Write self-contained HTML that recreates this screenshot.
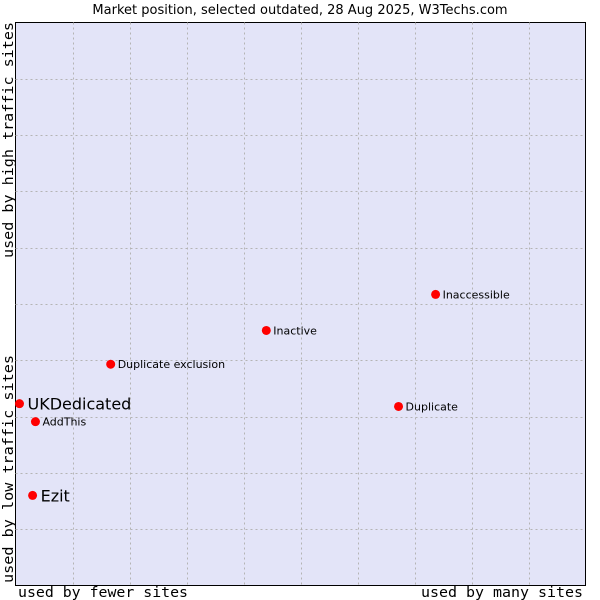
<!DOCTYPE html>
<html><head><meta charset="utf-8"><style>
body{margin:0;background:#fff;width:600px;height:600px;overflow:hidden}
svg{display:block}
</style></head><body>
<svg id="chart" width="600" height="600" font-family="'DejaVu Sans', sans-serif">
<text x="300" y="14" text-anchor="middle" font-size="13">Market position, selected outdated, 28 Aug 2025, W3Techs.com</text>
<rect x="15.5" y="22.5" width="570" height="563" fill="#e3e4f8" stroke="#000"/>
<g id="grid"></g>
<g id="pts"></g>
<text x="18" y="597" font-family="'DejaVu Sans Mono', monospace" font-size="14" textLength="170" lengthAdjust="spacingAndGlyphs">used by fewer sites</text>
<text x="421" y="597" font-family="'DejaVu Sans Mono', monospace" font-size="14" textLength="162" lengthAdjust="spacingAndGlyphs">used by many sites</text>
<text transform="translate(13,583) rotate(-90)" font-family="'DejaVu Sans Mono', monospace" font-size="14" textLength="228" lengthAdjust="spacingAndGlyphs">used by low traffic sites</text>
<text transform="translate(13,258) rotate(-90)" font-family="'DejaVu Sans Mono', monospace" font-size="14" textLength="236" lengthAdjust="spacingAndGlyphs">used by high traffic sites</text>
</svg>
<script>
const names=["UKDedicated","AddThis","Ezit","Duplicate exclusion","Inactive","Inaccessible","Duplicate"];
const xVals=[0.7,3.5,3.0,16.7,44.0,73.7,67.2];
const yVals=[32.3,29.1,16.0,39.3,45.3,51.7,31.8];
const big=[true,false,true,false,false,false,false];
const L=15.5,T=22.5,W=570,H=563;
const sx=v=>L+v/100*W, sy=v=>T+H-v/100*H;
const ns="http://www.w3.org/2000/svg";
const g=document.getElementById('grid');
for(let i=1;i<10;i++){
  let a=document.createElementNS(ns,'line');
  
  
  a.setAttribute('x1',Math.round(sx(i*10))+0.5);a.setAttribute('x2',Math.round(sx(i*10))+0.5);
  a.setAttribute('y1',T);a.setAttribute('y2',T+H);
  a.setAttribute('stroke','#b4b4b4');a.setAttribute('stroke-dasharray','2,3');g.appendChild(a);
  let b=document.createElementNS(ns,'line');
  
  
  b.setAttribute('y1',Math.round(sy(i*10))+0.5);b.setAttribute('y2',Math.round(sy(i*10))+0.5);
  b.setAttribute('x1',L);b.setAttribute('x2',L+W);
  b.setAttribute('stroke','#b4b4b4');b.setAttribute('stroke-dasharray','2,3');g.appendChild(b);
}
const p=document.getElementById('pts');
names.forEach((n,i)=>{
  const x=sx(xVals[i]),y=sy(yVals[i]);
  let c=document.createElementNS(ns,'circle');
  
  
  c.setAttribute('cx',x);c.setAttribute('cy',y);c.setAttribute('r',4.5);c.setAttribute('fill','#f00');p.appendChild(c);
  let t=document.createElementNS(ns,'text');
  
  
  t.setAttribute('x',x+(big[i]?8:7));t.setAttribute('y',y+(big[i]?6:4));
  t.setAttribute('font-size',big[i]?16:11);t.textContent=n;p.appendChild(t);
});
</script>
</body></html>
